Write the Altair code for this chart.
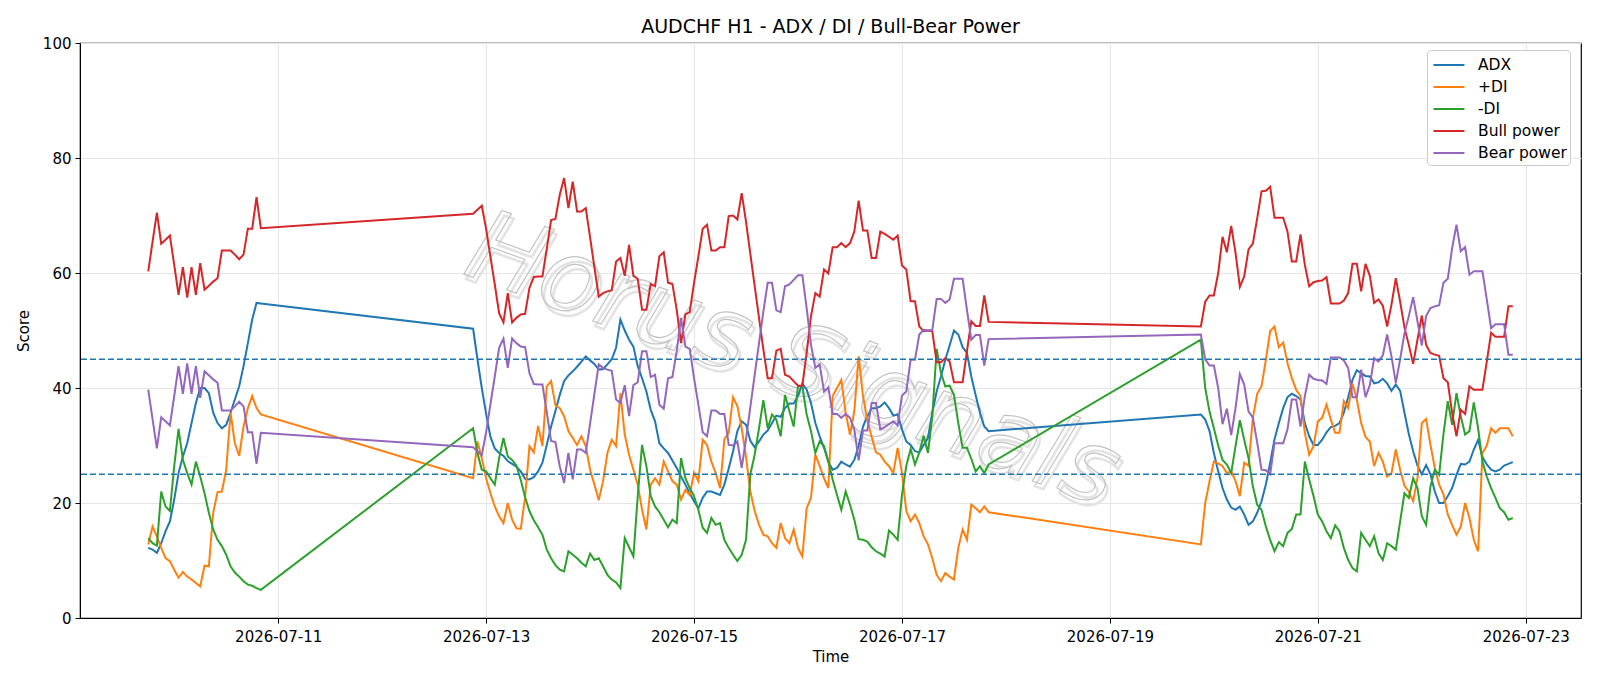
import altair as alt
import pandas as pd

# ---------------- data (hourly, three trading segments) ----------------
seg_starts = ["2026-07-09 18:00", "2026-07-12 21:00", "2026-07-19 21:00"]
seg_lengths = [27, 120, 73]

adx_a = [12.2, 11.9, 11.3, 13.0, 15.1, 16.8, 20.6, 25.2, 28.1, 30.4, 33.9, 37.4, 40.0, 40.0, 39.1, 35.7, 33.9, 33.0, 33.6, 35.7, 38.0, 40.3, 43.8, 47.8, 51.9, 54.8, 54.7]
adx_b = [50.3, 45.0, 40.0, 35.5, 31.5, 29.5, 28.7, 28.2, 27.3, 26.8, 26.3, 25.5, 24.2, 24.1, 24.5, 25.5, 27.0, 30.1, 33.3, 36.0, 38.8, 41.2, 42.2, 42.9, 43.7, 44.6, 45.5, 44.8, 44.2, 43.2,
         43.3, 44.1, 45.0, 47.0, 51.9, 50.0, 48.4, 47.2, 43.8, 41.7, 39.4, 36.2, 34.2, 30.4, 29.5, 28.7, 27.4, 26.1, 24.6, 23.2, 21.7, 20.3, 19.1, 20.9, 22.0, 22.0, 21.7, 21.4, 23.2, 26.0,
         29.0, 32.5, 34.2, 33.6, 30.8, 29.7, 30.7, 31.9, 32.6, 33.9, 35.2, 35.0, 36.5, 37.3, 37.3, 38.6, 40.8, 39.7, 37.4, 33.9, 31.6, 29.6, 27.2, 25.8, 26.1, 27.2, 26.7, 26.3, 27.5, 29.9,
         33.3, 35.1, 36.5, 36.5, 36.8, 37.5, 36.5, 35.2, 35.4, 32.8, 30.7, 30.1, 29.0, 28.8, 30.1, 31.3, 35.7, 39.4, 42.0, 44.9, 47.4, 50.0, 49.3, 47.1, 46.1, 42.0, 38.8, 35.7, 33.3, 32.5]
adx_c = [35.4, 34.5, 32.5, 28.7, 25.5, 22.6, 20.6, 19.2, 18.8, 19.4, 18.0, 16.2, 16.8, 18.3, 20.3, 23.2, 27.0, 31.1, 33.9, 36.5, 38.4, 39.0, 38.6, 38.0, 33.9, 31.6, 30.1, 30.1,
         31.0, 32.3, 33.2, 33.4, 33.9, 35.7, 38.4, 41.4, 43.1, 42.6, 42.1, 42.0, 40.8, 41.0, 41.6, 40.8, 39.5, 40.6, 39.5, 35.7, 32.0, 29.0, 26.5, 25.0, 26.6, 25.0, 22.0, 20.0, 20.0,
         21.2, 22.6, 24.9, 26.8, 26.7, 27.2, 29.3, 31.0, 28.0, 26.7, 25.8, 25.5, 25.8, 26.5, 26.8, 27.1]

pdi_a = [12.8, 15.9, 14.2, 12.2, 10.4, 9.9, 8.4, 7.0, 8.0, 7.2, 6.7, 6.1, 5.5, 9.1, 9.0, 18.3, 21.9, 22.0, 25.8, 35.7, 30.4, 28.2, 33.3, 36.5, 38.6, 36.5, 35.4]
pdi_b = [24.3, 30.7, 27.8, 24.3, 21.7, 19.4, 17.7, 16.5, 20.0, 17.1, 15.6, 15.5, 21.0, 29.9, 28.8, 33.4, 29.9, 40.3, 41.2, 37.0, 36.5, 35.1, 32.5, 31.3, 30.1, 31.6, 29.9, 25.8, 23.2, 20.5,
         23.8, 28.7, 31.0, 29.9, 39.1, 31.9, 28.4, 25.8, 23.2, 18.8, 15.4, 23.2, 24.3, 23.2, 27.2, 25.5, 23.8, 23.2, 20.6, 22.3, 21.4, 25.3, 23.8, 31.0, 30.1, 27.2, 25.2, 22.6, 31.1, 32.2,
         38.4, 36.8, 33.0, 28.0, 22.0, 18.6, 16.2, 14.5, 14.2, 13.0, 12.2, 16.5, 13.9, 13.0, 15.4, 12.2, 10.7, 19.1, 20.9, 28.4, 26.4, 24.3, 22.6, 38.6, 40.0, 41.4, 35.7, 31.9, 36.0, 45.5,
         38.6, 34.5, 31.5, 28.8, 28.4, 27.2, 26.4, 25.2, 29.6, 25.2, 18.6, 16.8, 18.0, 16.5, 14.2, 12.8, 10.4, 7.5, 6.4, 7.8, 7.2, 6.7, 12.2, 15.4, 13.6, 19.7, 19.1, 18.4, 19.4, 18.4]
pdi_c = [12.8, 20.0, 23.8, 27.2, 26.9, 26.4, 25.2, 25.5, 23.8, 21.2, 27.0, 26.5, 34.8, 39.0, 40.3, 44.9, 49.9, 50.7, 47.1, 47.9, 44.3, 41.7, 39.7, 38.6, 32.2, 28.4, 29.9, 34.2,
         34.8, 37.1, 34.5, 32.2, 32.2, 37.7, 36.5, 40.8, 38.0, 33.9, 31.5, 30.7, 26.4, 28.7, 27.2, 24.6, 25.2, 29.3, 25.8, 23.0, 22.0, 20.3, 24.3, 33.9, 34.6, 30.1, 26.1, 23.2, 21.5,
         18.0, 16.2, 14.5, 15.9, 20.0, 17.4, 13.6, 11.6, 28.7, 30.0, 33.0, 32.2, 33.0, 33.0, 33.0, 31.6]

mdi_a = [13.9, 13.0, 12.6, 22.0, 19.4, 18.6, 26.4, 32.9, 27.5, 25.2, 23.2, 27.2, 24.6, 21.7, 18.3, 15.4, 13.6, 12.5, 11.0, 9.0, 7.9, 7.2, 6.4, 5.8, 5.6, 5.2, 4.9]
mdi_b = [33.0, 28.7, 25.8, 25.5, 24.3, 23.2, 27.8, 31.3, 28.1, 27.5, 26.5, 24.0, 21.0, 18.6, 17.0, 15.8, 14.5, 11.9, 10.4, 9.2, 8.4, 8.1, 11.6, 11.0, 10.4, 9.6, 9.0, 11.2, 10.1, 10.4,
         9.0, 7.5, 6.7, 6.2, 5.2, 13.9, 12.3, 10.7, 21.2, 30.1, 26.4, 21.2, 19.4, 18.4, 17.1, 15.8, 17.1, 16.5, 27.8, 24.3, 22.6, 21.2, 18.8, 15.7, 14.8, 17.4, 16.2, 16.5, 13.6, 12.2,
         11.0, 9.9, 11.0, 13.6, 25.0, 28.4, 33.0, 37.9, 33.0, 35.4, 34.5, 31.6, 38.8, 36.0, 33.3, 40.3, 40.3, 35.4, 32.5, 28.7, 30.7, 29.9, 27.2, 24.1, 21.4, 18.8, 22.0, 19.7, 17.1, 13.7,
         13.6, 13.3, 12.3, 11.6, 11.2, 10.7, 15.2, 14.5, 13.6, 21.4, 26.5, 29.4, 26.7, 28.8, 31.7, 28.7, 35.0, 46.8, 42.6, 40.3, 40.4, 38.8, 33.9, 29.6, 29.6, 27.7, 25.5, 26.4, 25.2, 26.7]
mdi_c = [48.4, 40.0, 35.9, 33.0, 30.0, 27.5, 26.7, 25.2, 29.9, 34.4, 31.0, 27.8, 22.9, 19.7, 18.8, 15.9, 13.6, 11.6, 13.2, 12.5, 14.8, 15.5, 18.0, 18.0, 27.2, 24.1, 21.2, 18.0,
         16.8, 15.1, 13.9, 16.1, 15.1, 12.2, 10.1, 8.7, 8.1, 14.8, 13.6, 12.5, 14.2, 11.3, 10.1, 13.0, 12.5, 11.9, 16.8, 21.7, 20.9, 24.3, 22.6, 17.7, 16.2, 22.9, 25.8, 24.9, 32.0,
         37.7, 33.6, 39.1, 35.1, 31.9, 32.5, 37.5, 33.0, 27.2, 24.6, 22.6, 20.9, 19.1, 18.4, 17.1, 17.4]

bull_a = [60.3, 65.4, 70.5, 65.1, 65.8, 66.5, 61.4, 56.2, 61.0, 55.7, 61.0, 56.2, 61.7, 57.1, 57.8, 58.5, 59.1, 63.9, 63.9, 63.9, 63.2, 62.4, 63.2, 67.7, 67.7, 73.2, 67.8]
bull_b = [70.3, 71.0, 71.7, 67.7, 62.8, 58.0, 53.0, 51.4, 56.5, 51.4, 52.2, 52.8, 52.9, 57.4, 59.3, 59.4, 59.4, 64.2, 69.2, 69.4, 73.6, 76.5, 71.3, 75.9, 70.7, 70.7, 71.3, 66.2, 61.0, 55.9,
          56.5, 56.8, 57.0, 62.0, 62.6, 59.5, 64.9, 59.5, 59.0, 53.6, 53.6, 58.1, 57.7, 62.9, 63.6, 58.3, 58.1, 53.6, 47.8, 52.8, 53.2, 58.3, 62.9, 67.7, 68.4, 63.9, 63.9, 64.5, 64.5, 69.9,
          70.0, 69.3, 73.9, 68.9, 63.3, 57.7, 52.2, 46.7, 41.7, 41.7, 46.5, 46.8, 42.3, 42.0, 41.2, 40.4, 40.4, 46.1, 52.5, 56.5, 55.9, 60.6, 59.9, 64.5, 64.5, 65.2, 64.5, 65.2, 67.2, 72.6,
          67.4, 67.4, 62.6, 62.6, 67.2, 66.8, 66.3, 65.8, 66.5, 61.3, 60.6, 55.1, 55.1, 50.7, 49.9, 50.0, 49.9, 44.5, 44.5, 45.2, 44.6, 41.0, 41.0, 41.0, 46.4, 51.6, 50.8, 50.8, 56.1, 51.5]
bull_c = [50.7, 55.0, 56.1, 56.1, 60.0, 66.3, 63.6, 68.2, 63.5, 57.6, 59.4, 64.1, 65.1, 69.5, 74.2, 74.3, 75.0, 69.6, 69.6, 69.6, 67.2, 62.0, 62.0, 66.7, 61.4, 57.7, 58.4, 58.6, 58.7, 59.3,
          54.7, 54.7, 54.7, 55.2, 56.5, 61.6, 61.6, 56.8, 61.6, 59.5, 54.8, 55.4, 54.3, 50.7, 54.5, 59.1, 55.0, 50.5, 47.5, 44.2, 48.4, 52.6, 47.5, 46.1, 45.8, 45.6, 41.7, 41.0, 35.7, 31.6,
          36.2, 35.5, 40.3, 39.7, 39.7, 39.7, 44.6, 49.6, 48.9, 48.9, 48.9, 54.2, 54.2]

bear_a = [39.7, 34.6, 29.5, 34.9, 34.2, 33.5, 38.6, 43.8, 39.0, 44.3, 39.0, 43.8, 38.3, 42.9, 42.2, 41.5, 40.9, 36.1, 36.1, 36.1, 36.8, 37.6, 36.8, 32.3, 32.3, 26.8, 32.2]
bear_b = [29.7, 29.0, 28.3, 32.3, 37.2, 42.0, 47.0, 48.6, 43.5, 48.6, 47.8, 47.2, 47.1, 42.6, 40.7, 40.6, 40.6, 35.8, 30.8, 30.6, 26.4, 23.5, 28.7, 24.1, 29.3, 29.3, 28.7, 33.8, 39.0, 44.1,
          43.5, 43.2, 43.0, 38.0, 37.4, 40.5, 35.1, 40.5, 41.0, 46.4, 46.4, 41.9, 42.3, 37.1, 36.4, 41.7, 41.9, 46.4, 52.2, 47.2, 46.8, 41.7, 37.1, 32.3, 31.6, 36.1, 36.1, 35.5, 35.5, 30.1,
          30.0, 30.7, 26.1, 31.1, 36.7, 42.3, 47.8, 53.3, 58.3, 58.3, 53.5, 53.2, 57.7, 58.0, 58.8, 59.6, 59.6, 53.9, 47.5, 43.5, 44.1, 39.4, 40.1, 35.5, 35.5, 34.8, 35.5, 34.8, 32.8, 27.4,
          32.6, 32.6, 37.4, 37.4, 32.8, 33.2, 33.7, 34.2, 33.5, 38.7, 39.4, 44.9, 44.9, 49.3, 50.1, 50.0, 50.1, 55.5, 55.5, 54.8, 55.4, 59.0, 59.0, 59.0, 53.6, 48.4, 49.2, 49.2, 43.9, 48.5]
bear_c = [49.3, 45.0, 43.9, 43.9, 40.0, 33.7, 36.4, 31.8, 36.5, 42.4, 40.6, 35.9, 34.9, 30.5, 25.8, 25.7, 25.0, 30.4, 30.4, 30.4, 32.8, 38.0, 38.0, 33.3, 38.6, 42.3, 41.6, 41.4, 41.3, 40.7,
          45.3, 45.3, 45.3, 44.8, 43.5, 38.4, 38.4, 43.2, 38.4, 40.5, 45.2, 44.6, 45.7, 49.3, 45.5, 40.9, 45.0, 49.5, 52.5, 55.8, 51.6, 47.4, 52.5, 53.9, 54.2, 54.4, 58.3, 59.0, 64.3, 68.4,
          63.8, 64.5, 59.7, 60.3, 60.3, 60.3, 55.4, 50.4, 51.1, 51.1, 51.1, 45.8, 45.8]

series_names = ["ADX", "+DI", "-DI", "Bull power", "Bear power"]
series_colors = ["#1f77b4", "#ff7f0e", "#2ca02c", "#d62728", "#9467bd"]
thresholds = [25, 45]
y_ticks = [0, 20, 40, 60, 80, 100]
x_tick_days = [11, 13, 15, 17, 19, 21, 23]

# ---------------- build long table ----------------
times = []
for s, n in zip(seg_starts, seg_lengths):
    times += [t.strftime("%Y-%m-%dT%H:%M:%S") for t in pd.date_range(s, periods=n, freq="h")]

series_values = {
    "ADX": adx_a + adx_b + adx_c,
    "+DI": pdi_a + pdi_b + pdi_c,
    "-DI": mdi_a + mdi_b + mdi_c,
    "Bull power": bull_a + bull_b + bull_c,
    "Bear power": bear_a + bear_b + bear_c,
}
rows = []
for name in series_names:
    vals = series_values[name]
    assert len(vals) == len(times), (name, len(vals), len(times))
    for t, v in zip(times, vals):
        rows.append({"time": t, "value": v, "series": name})
df = pd.DataFrame(rows)

W, H = 1501, 575
FONT = "DejaVu Sans"

x_scale = alt.Scale(domain=[alt.DateTime(year=2026, month=7, date=9, hours=2, minutes=15),
                            alt.DateTime(year=2026, month=7, date=23, hours=12, minutes=45)])
y_scale = alt.Scale(domain=[0, 100], nice=False)

x_axis = alt.Axis(values=[alt.DateTime(year=2026, month=7, date=d) for d in x_tick_days],
                  format="%Y-%m-%d", title="Time", labelAngle=0, titlePadding=5, labelPadding=6)
y_axis = alt.Axis(values=y_ticks, title="Score", titlePadding=11)

lines = alt.Chart(df).mark_line(strokeWidth=2, clip=True).encode(
    x=alt.X("time:T", scale=x_scale, axis=x_axis),
    y=alt.Y("value:Q", scale=y_scale, axis=y_axis),
    color=alt.Color("series:N",
                    scale=alt.Scale(domain=series_names, range=series_colors),
                    sort=series_names,
                    legend=alt.Legend(title=None, orient="none", legendX=1347, legendY=7,
                                      fillColor="white", strokeColor="#cccccc", cornerRadius=4,
                                      padding=3, symbolType="M-0.78,0H2.05", symbolSize=480,
                                      symbolStrokeWidth=2, labelFont=FONT, labelFontSize=15.5,
                                      labelColor="black", rowPadding=1, labelOffset=24)),
)

rules = alt.Chart(pd.DataFrame({"value": thresholds})).mark_rule(
    color="#1f77b4", strokeDash=[6, 3], strokeWidth=1.4
).encode(y=alt.Y("value:Q", scale=y_scale))

wm_df = pd.DataFrame({"wm": ["Horus Signals"]})
wm_shadow = alt.Chart(wm_df).mark_text(
    angle=20, fontSize=100, font=FONT, fontStyle="italic", align="center", baseline="middle",
    fill="white", fillOpacity=0, stroke="#e3e3e3", strokeWidth=2.5, dx=4, dy=4
).encode(text="wm:N", x=alt.value(713), y=alt.value(319))
wm = alt.Chart(wm_df).mark_text(
    angle=20, fontSize=100, font=FONT, fontStyle="italic", align="center", baseline="middle",
    fill="white", fillOpacity=0, stroke="#c4c4c4", strokeWidth=1.2
).encode(text="wm:N", x=alt.value(713), y=alt.value(319))

chart = alt.layer(wm_shadow, wm, lines, rules).properties(
    width=W, height=H,
    title=alt.Title("AUDCHF H1 - ADX / DI / Bull-Bear Power", font=FONT, fontSize=19,
                    fontWeight="normal", color="black", anchor="middle", offset=-1),
    autosize=alt.AutoSizeParams(type="none"),
    padding={"left": 80, "top": 43, "right": 19, "bottom": 68},
    background="white",
).configure_view(
    stroke="black", strokeWidth=1.2
).configure_axis(
    labelFont=FONT, labelFontSize=15, labelColor="black",
    titleFont=FONT, titleFontSize=15, titleFontWeight="normal", titleColor="black",
    domainColor="black", tickColor="black", tickSize=5, labelPadding=4,
    gridColor="#e5e5e5", gridWidth=1,
)

chart.save("out.html", embed_options={"renderer": "svg", "actions": False})
